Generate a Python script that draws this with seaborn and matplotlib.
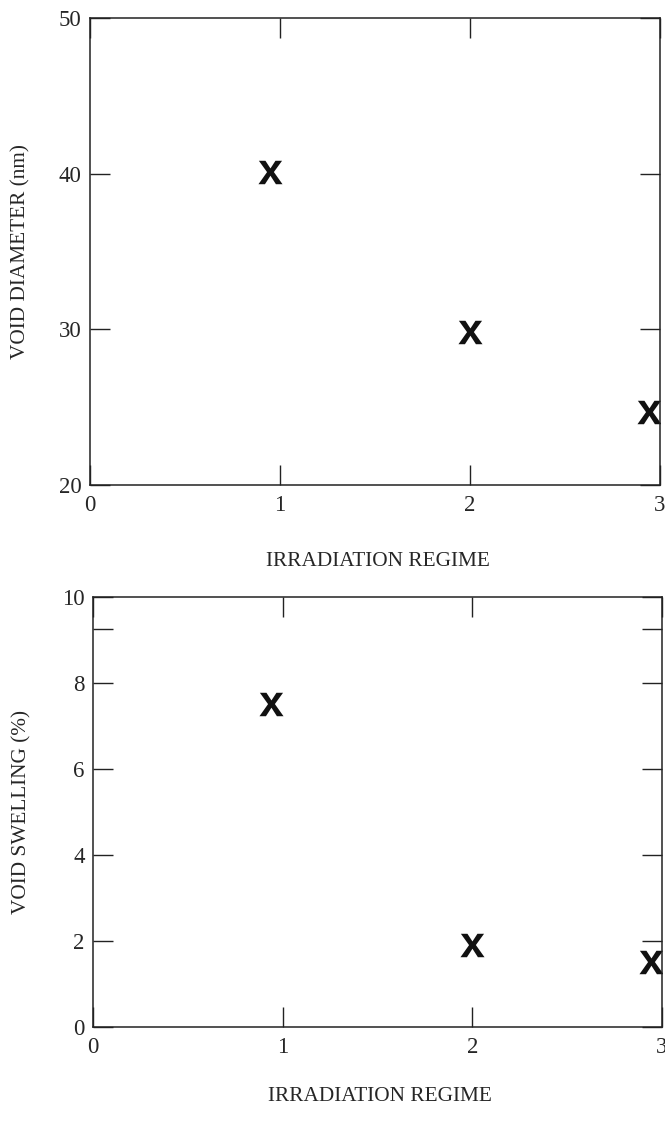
import matplotlib
matplotlib.use("Agg")
import matplotlib.pyplot as plt
import seaborn as sns
import pandas as pd

# values
regime_diam = [0.95, 2.0, 2.94]
diameter_nm = [40.1, 29.8, 24.7]
regime_swell = [0.94, 2.0, 2.94]
swelling_pct = [7.5, 1.9, 1.5]

x_ticks = [0, 1, 2, 3]
diam_ticks = [20, 30, 40, 50]
swell_ticks = [0, 2, 4, 6, 8, 10]

sns.set_style("ticks")
plt.rcParams['font.family'] = ['Liberation Serif', 'DejaVu Serif']
plt.rcParams['mathtext.fontset'] = 'custom'
plt.rcParams['mathtext.bf'] = 'Liberation Sans:bold'

diam_df = pd.DataFrame({'regime': regime_diam, 'diameter': diameter_nm})
swell_df = pd.DataFrame({'regime': regime_swell, 'swelling': swelling_pct})

fig = plt.figure(figsize=(6.65, 11.23), dpi=100)
ax1 = fig.add_axes([0.1353, 0.5681, 0.8572, 0.4159])
ax2 = fig.add_axes([0.1398, 0.0855, 0.8557, 0.3829])

marker = r'$\mathbf{x}$'
sns.scatterplot(data=diam_df, x='regime', y='diameter', ax=ax1,
                marker=marker, s=300, color='#111111', linewidth=0)
sns.scatterplot(data=swell_df, x='regime', y='swelling', ax=ax2,
                marker=marker, s=300, color='#111111', linewidth=0)

ax1.set_xlim(0, 3)
ax1.set_ylim(20, 50)
ax1.set_yticks(diam_ticks)
ax1.set_ylabel('VOID DIAMETER (nm)', fontsize=15.3)

ax2.set_xlim(0, 3)
ax2.set_ylim(0, 10)
ax2.set_yticks(swell_ticks)
ax2.set_yticks([9.25], minor=True)
ax2.set_ylabel('VOID SWELLING (%)', fontsize=15.3)

for ax in (ax1, ax2):
    ax.set_xticks(x_ticks)
    ax.set_xlabel('IRRADIATION REGIME', fontsize=15.3)
    ax.tick_params(which='both', direction='in', top=True, right=True,
                   length=14.4, width=1.0, color='#222222', labelsize=16.5, pad=6)
    ax.tick_params(axis='x', pad=7)
    for sp in ax.spines.values():
        sp.set_linewidth(1.1)
        sp.set_color('#222222')
        sp.set_visible(True)

ax1.xaxis.set_label_coords(0.505, -0.143)
ax2.xaxis.set_label_coords(0.505, -0.14)
ax1.yaxis.set_label_coords(-0.105, 0.5)
ax2.yaxis.set_label_coords(-0.108, 0.5)

fig.savefig('out.png', dpi=100)
